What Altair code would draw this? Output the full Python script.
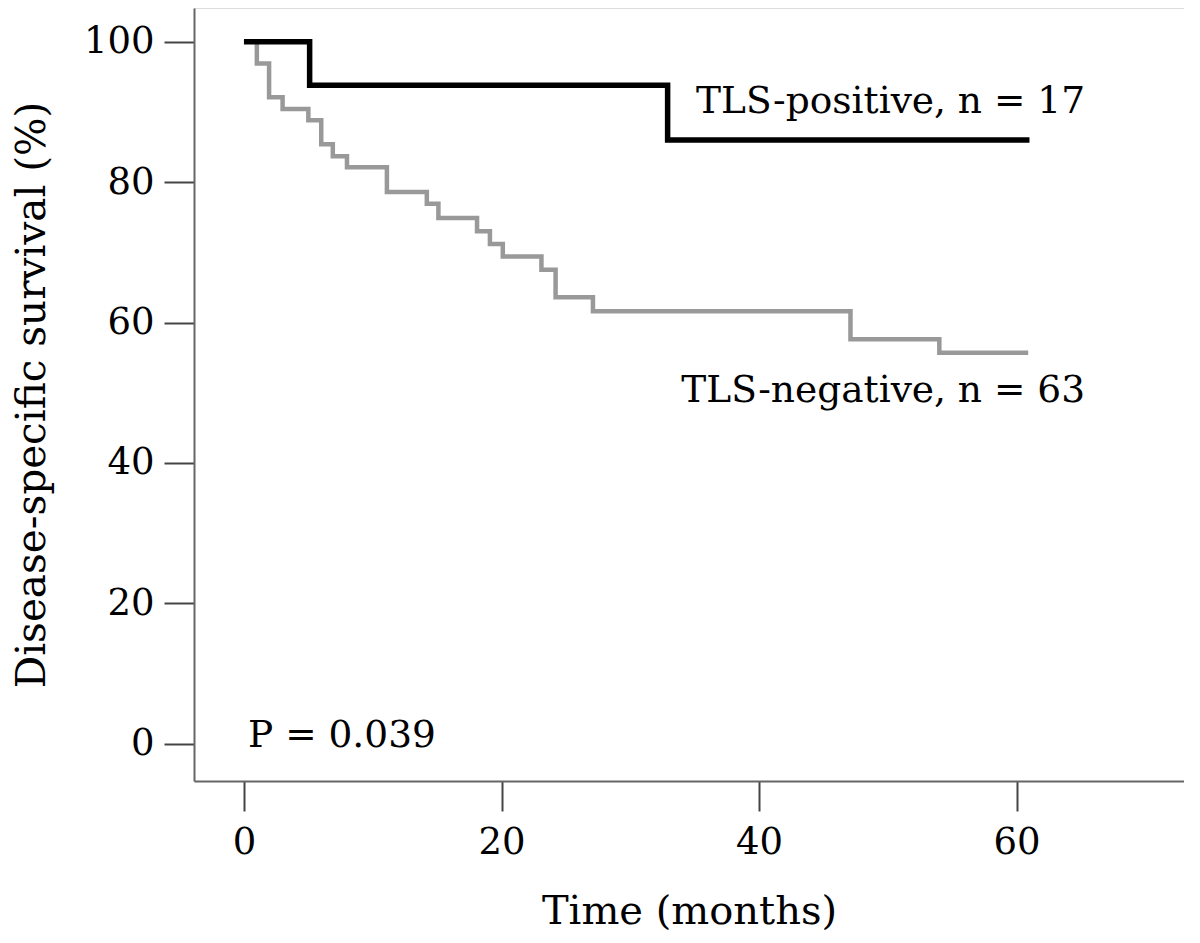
import altair as alt
import pandas as pd

# Kaplan-Meier step data
pos_time = [0, 5.1, 32.9, 61.0]
pos_surv = [100, 93.8, 86.0, 86.0]

neg_time = [0, 1.0, 1.95, 3.0, 5.0, 6.0, 6.9, 8.0, 11.1, 14.2, 15.1, 18.1,
            19.1, 20.1, 23.1, 24.2, 27.1, 47.1, 54.0, 60.9]
neg_surv = [100, 96.9, 92.1, 90.4, 88.8, 85.4, 83.7, 82.1, 78.6, 76.9, 74.9,
            73.0, 71.2, 69.4, 67.5, 63.6, 61.6, 57.6, 55.7, 55.7]

x_ticks = [0, 20, 40, 60]
y_ticks = [0, 20, 40, 60, 80, 100]

FONT = "DejaVu Serif"
FS_TICK = 37
FS_ANN = 37.5
FS_XT = 40
FS_YT = 40.5

df = pd.concat([
    pd.DataFrame({"time": neg_time, "surv": neg_surv, "group": "TLS-negative", "order": range(len(neg_time))}),
    pd.DataFrame({"time": pos_time, "surv": pos_surv, "group": "TLS-positive", "order": range(len(pos_time))}),
])

xscale = alt.Scale(domain=[-3.88, 73.0], nice=False, zero=False)
yscale = alt.Scale(domain=[-5.31, 104.8], nice=False, zero=False)

base = alt.Chart(df)

lines = base.mark_line(interpolate="step-after", strokeCap="butt", strokeJoin="miter").encode(
    x=alt.X("time:Q", scale=xscale, axis=alt.Axis(
        title="Time (months)", values=x_ticks, grid=False, tickSize=30, tickWidth=2,
        tickColor="#444", domainColor="#666", domainWidth=2, labelFont=FONT,
        labelFontSize=FS_TICK, labelColor="black", labelPadding=13, titleFont=FONT,
        titleFontSize=FS_XT, titleFontWeight="normal", titleColor="black", titlePadding=31)),
    y=alt.Y("surv:Q", scale=yscale, axis=alt.Axis(
        title="Disease-specific survival (%)", values=y_ticks, grid=False, tickSize=30,
        tickWidth=2, tickColor="#444", domainColor="#666", domainWidth=2, labelFont=FONT,
        labelFontSize=FS_TICK, labelColor="black", labelPadding=10, titleFont=FONT,
        titleFontSize=FS_YT, titleFontWeight="normal", titleColor="black", titlePadding=30)),
    color=alt.Color("group:N", scale=alt.Scale(domain=["TLS-negative", "TLS-positive"],
                                               range=["#999999", "#000000"]), legend=None),
    strokeWidth=alt.StrokeWidth("group:N", scale=alt.Scale(domain=["TLS-negative", "TLS-positive"],
                                                           range=[4.5, 5.5]), legend=None),
    order="order:Q",
    detail="group:N",
)

labels = pd.DataFrame({
    "text": ["TLS-positive, n = 17", "TLS-negative, n = 63"],
    "px": [891, 891],
    "py": [105, 394],
})

lab = alt.Chart(labels).mark_text(align="right", baseline="alphabetic", font=FONT,
                                  fontSize=FS_ANN, color="black").encode(
    x=alt.X("px:Q", scale=None), y=alt.Y("py:Q", scale=None), text="text:N")

ptext = alt.Chart(pd.DataFrame({"t": ["P = 0.039"]})).mark_text(
    align="left", baseline="alphabetic", font=FONT, fontSize=FS_ANN, color="black").encode(
    x=alt.value(54), y=alt.value(739), text="t:N")

chart = alt.layer(lines, lab, ptext).properties(
    width=990, height=773,
    autosize=alt.AutoSizeParams(type="none"),
    padding={"left": 186, "top": 0, "right": 0, "bottom": 154},
).configure_view(stroke=None).configure(background="white")

chart.save("out.html", embed_options={"renderer": "svg", "actions": False})
